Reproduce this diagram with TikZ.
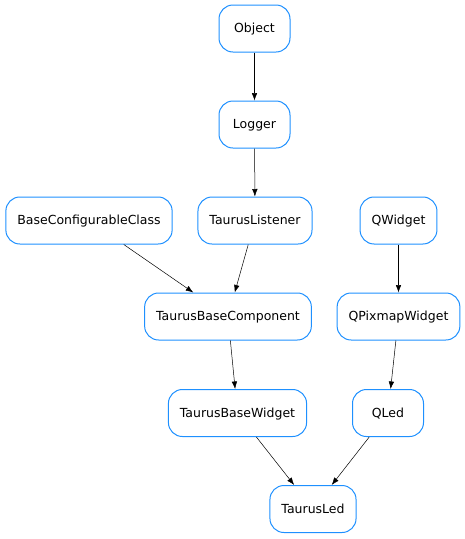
\documentclass[tikz,border=0pt]{standalone}
\usepackage{fontspec}
\setmainfont{DejaVu Sans}
\usetikzlibrary{arrows.meta}
\definecolor{boxblue}{RGB}{30,144,255}
\begin{document}
\begin{tikzpicture}
            [
                x = 1pt,
                y = -1pt,
                every node/.style={
                    draw = boxblue,
                    line width = 1pt,
                    rectangle,
                    rounded corners = 14pt,
                    minimum width = 71pt,
                    minimum height = 47pt,
                    inner xsep = 11.5pt,
                    text height = 9pt,
                    text depth = 1pt,
                    font = \fontsize{12.5}{15}\selectfont
                },
                inherit/.style={
                    -{Latex[length=7.5pt,width=5.5pt]},
                    line width = 0.5pt
                },
            ]

                \useasboundingbox (0,0) rectangle (465,539);

                \node (object) at (254.5,28.5) {Object};
                \node (logger) at (254.5,124.5) {Logger};
                \node (baseconf) at (89,220.5) {BaseConfigurableClass};
                \node (listener) at (255,220.5) {TaurusListener};
                \node (qwidget) at (398.5,220.5) {QWidget};
                \node (component) at (228,316.5) {TaurusBaseComponent};
                \node (pixmap) at (398.5,316.5) {QPixmapWidget};
                \node (basewidget) at (237.5,413) {TaurusBaseWidget};
                \node (qled) at (388,413) {QLed};
                \node (taurusled) at (313,509) {TaurusLed};

                \draw [inherit] (object) -- (logger);
                \draw [inherit] (logger) -- (listener);
                \draw [inherit] (baseconf) -- (component);
                \draw [inherit] (listener) -- (component);
                \draw [inherit] (qwidget) -- (pixmap);
                \draw [inherit] (component) -- (basewidget);
                \draw [inherit] (pixmap) -- (qled);
                \draw [inherit] (basewidget) -- (taurusled);
                \draw [inherit] (qled) -- (taurusled);
            \end{tikzpicture}
\end{document}
